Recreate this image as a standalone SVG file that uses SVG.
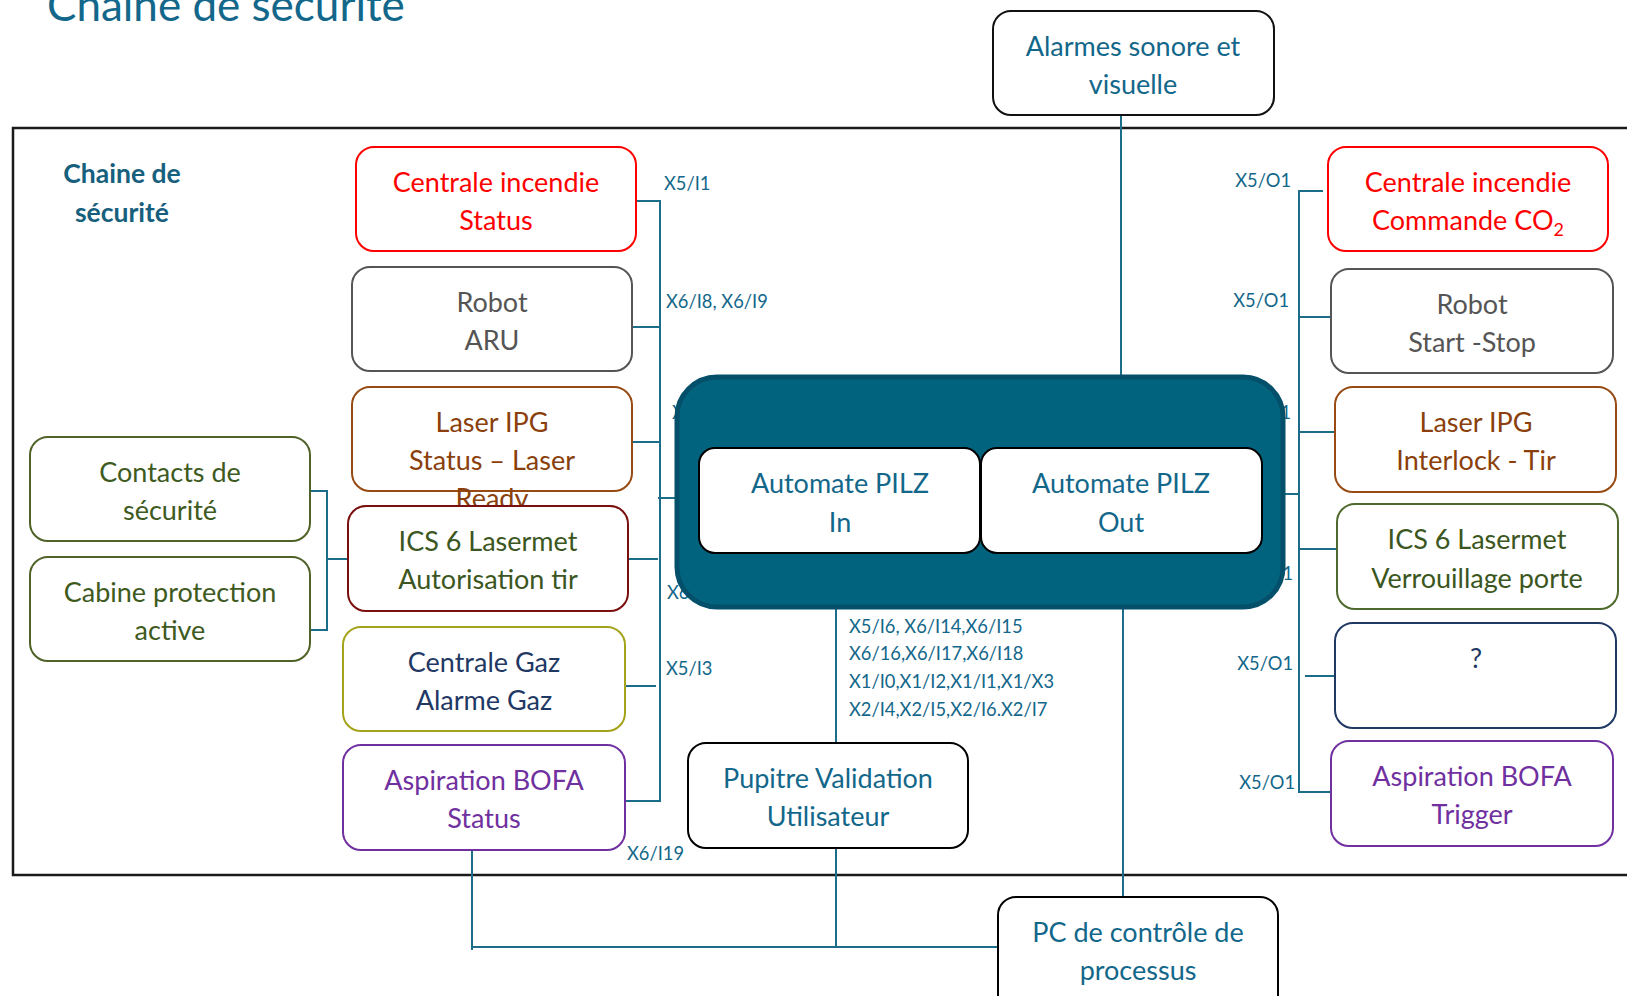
<svg xmlns="http://www.w3.org/2000/svg" width="1627" height="996" viewBox="0 0 1627 996">
<style>
text{font-family:Lato,"Liberation Sans",sans-serif}
.n{font-size:27px;text-anchor:middle}
.lb{font-size:18.3px;fill:#13678a}
.lbe{font-size:18.3px;fill:#13678a;text-anchor:end}
.box{fill:#fff;stroke-width:2}
.cn{stroke:#1b6d8a;stroke-width:2;fill:none}
.teal{fill:#13678a}
</style>
<rect x="13" y="128" width="1640" height="747" fill="none" stroke="#1a1a1a" stroke-width="2.5"/>
<text x="47" y="21" font-size="44" class="teal">Chaine de sécurité</text>
<g id="label-chaine" font-weight="bold" font-size="26.5" fill="#17607d" text-anchor="middle">
<text x="122" y="183">Chaine de</text>
<text x="122" y="222">sécurité</text>
</g>
<g id="connectors" class="cn">
<path d="M636 201H660V801H625"/>
<path d="M632 327H660"/>
<path d="M632 442H659"/>
<path d="M658 498H680"/>
<path d="M628 559H658"/>
<path d="M625 686H656"/>
<path d="M310 491H327V630H310"/>
<path d="M327 559H348"/>
<path d="M1121 115V378"/>
<path d="M836 606V743"/>
<path d="M1123 606V898"/>
<path d="M836 848V947"/>
<path d="M472 850V950"/>
<path d="M472 947H998"/>
<path d="M1323 191H1299V792H1334"/>
<path d="M1299 317H1331"/>
<path d="M1299 432H1335"/>
<path d="M1278 494H1300"/>
<path d="M1300 549H1337"/>
<path d="M1305 676H1335"/>
</g>
<g id="labels">
<text class="lb" x="664" y="190">X5/I1</text>
<text class="lb" x="666" y="308">X6/I8, X6/I9</text>
<text class="lb" x="672" y="419">X</text>
<text class="lb" x="667" y="599">X6</text>
<text class="lb" x="666" y="675">X5/I3</text>
<text class="lb" x="627" y="860">X6/I19</text>
<text class="lbe" x="1291" y="187">X5/O1</text>
<text class="lbe" x="1289" y="307">X5/O1</text>
<text class="lbe" x="1291" y="419">1</text>
<text class="lbe" x="1293" y="580">O1</text>
<text class="lbe" x="1293" y="670">X5/O1</text>
<text class="lbe" x="1295" y="789">X5/O1</text>
<text class="lb" x="849" y="633">X5/I6, X6/I14,X6/I15</text>
<text class="lb" x="849" y="660">X6/16,X6/I17,X6/I18</text>
<text class="lb" x="849" y="688">X1/I0,X1/I2,X1/I1,X1/X3</text>
<text class="lb" x="849" y="716">X2/I4,X2/I5,X2/I6.X2/I7</text>
</g>
<g id="alarmes">
<rect class="box" x="993" y="11" width="281" height="104" rx="18" stroke="#111"/>
<text class="n teal" x="1133" y="56">Alarmes sonore et</text>
<text class="n teal" x="1133" y="94">visuelle</text>
</g>
<g id="centrale-incendie-status">
<rect class="box" x="356" y="147" width="280" height="104" rx="18" stroke="#ff0000"/>
<text class="n" fill="#ff0000" x="496" y="192">Centrale incendie</text>
<text class="n" fill="#ff0000" x="496" y="230">Status</text>
</g>
<g id="robot-aru">
<rect class="box" x="352" y="267" width="280" height="104" rx="18" stroke="#555"/>
<text class="n" fill="#555" x="492" y="312">Robot</text>
<text class="n" fill="#555" x="492" y="350">ARU</text>
</g>
<g id="laser-ipg-status">
<rect class="box" x="352" y="387" width="280" height="104" rx="18" stroke="#974a12"/>
<text class="n" fill="#8a3f0c" x="492" y="432">Laser IPG</text>
<text class="n" fill="#8a3f0c" x="492" y="470">Status – Laser</text>
<text class="n" fill="#8a3f0c" x="492" y="508">Ready</text>
</g>
<g id="ics6-autorisation">
<rect class="box" x="348" y="506" width="280" height="105" rx="18" stroke="#7a0f0f"/>
<text class="n" fill="#3b5620" x="488" y="551">ICS 6 Lasermet</text>
<text class="n" fill="#3b5620" x="488" y="589">Autorisation tir</text>
</g>
<g id="centrale-gaz">
<rect class="box" x="343" y="627" width="282" height="104" rx="18" stroke="#a3a31c"/>
<text class="n" fill="#1f3864" x="484" y="672">Centrale Gaz</text>
<text class="n" fill="#1f3864" x="484" y="710">Alarme Gaz</text>
</g>
<g id="aspiration-status">
<rect class="box" x="343" y="745" width="282" height="105" rx="18" stroke="#7030a0"/>
<text class="n" fill="#7030a0" x="484" y="790">Aspiration BOFA</text>
<text class="n" fill="#7030a0" x="484" y="828">Status</text>
</g>
<g id="contacts-securite">
<rect class="box" x="30" y="437" width="280" height="104" rx="18" stroke="#4f6228"/>
<text class="n" fill="#3e5a1e" x="170" y="482">Contacts de</text>
<text class="n" fill="#3e5a1e" x="170" y="520">sécurité</text>
</g>
<g id="cabine-protection">
<rect class="box" x="30" y="557" width="280" height="104" rx="18" stroke="#4f6228"/>
<text class="n" fill="#3e5a1e" x="170" y="602">Cabine protection</text>
<text class="n" fill="#3e5a1e" x="170" y="640">active</text>
</g>
<g id="automate-pilz">
<rect x="677" y="377" width="606" height="230" rx="40" fill="#02637f" stroke="#04506a" stroke-width="5"/>
<g id="pilz-in">
<rect class="box" x="699" y="448" width="281" height="105" rx="16" stroke="#000"/>
<text class="n teal" x="840" y="493">Automate PILZ</text>
<text class="n teal" x="840" y="532">In</text>
</g>
<g id="pilz-out">
<rect class="box" x="981" y="448" width="281" height="105" rx="16" stroke="#000"/>
<text class="n teal" x="1121" y="493">Automate PILZ</text>
<text class="n teal" x="1121" y="532">Out</text>
</g>
</g>
<g id="pupitre">
<rect class="box" x="688" y="743" width="280" height="105" rx="18" stroke="#000"/>
<text class="n teal" x="828" y="788">Pupitre Validation</text>
<text class="n teal" x="828" y="826">Utilisateur</text>
</g>
<g id="pc-controle">
<rect class="box" x="998" y="897" width="280" height="120" rx="18" stroke="#000"/>
<text class="n teal" x="1138" y="942">PC de contrôle de</text>
<text class="n teal" x="1138" y="980">processus</text>
</g>
<g id="centrale-incendie-co2">
<rect class="box" x="1328" y="147" width="280" height="104" rx="18" stroke="#ff0000"/>
<text class="n" fill="#ff0000" x="1468" y="192">Centrale incendie</text>
<text class="n" fill="#ff0000" x="1468" y="230">Commande CO<tspan font-size="18" dy="6">2</tspan></text>
</g>
<g id="robot-start-stop">
<rect class="box" x="1331" y="269" width="282" height="104" rx="18" stroke="#555"/>
<text class="n" fill="#555" x="1472" y="314">Robot</text>
<text class="n" fill="#555" x="1472" y="352">Start -Stop</text>
</g>
<g id="laser-ipg-interlock">
<rect class="box" x="1335" y="387" width="281" height="105" rx="18" stroke="#974a12"/>
<text class="n" fill="#8a3f0c" x="1476" y="432">Laser IPG</text>
<text class="n" fill="#8a3f0c" x="1476" y="470">Interlock - Tir</text>
</g>
<g id="ics6-verrouillage">
<rect class="box" x="1337" y="504" width="281" height="105" rx="18" stroke="#4f6a2e"/>
<text class="n" fill="#3b5620" x="1477" y="549">ICS 6 Lasermet</text>
<text class="n" fill="#3b5620" x="1477" y="588">Verrouillage porte</text>
</g>
<g id="inconnu">
<rect class="box" x="1335" y="623" width="281" height="105" rx="18" stroke="#1f3864"/>
<text class="n" fill="#1f3864" x="1476" y="668">?</text>
</g>
<g id="aspiration-trigger">
<rect class="box" x="1331" y="741" width="282" height="105" rx="18" stroke="#7030a0"/>
<text class="n" fill="#7030a0" x="1472" y="786">Aspiration BOFA</text>
<text class="n" fill="#7030a0" x="1472" y="824">Trigger</text>
</g>
</svg>
